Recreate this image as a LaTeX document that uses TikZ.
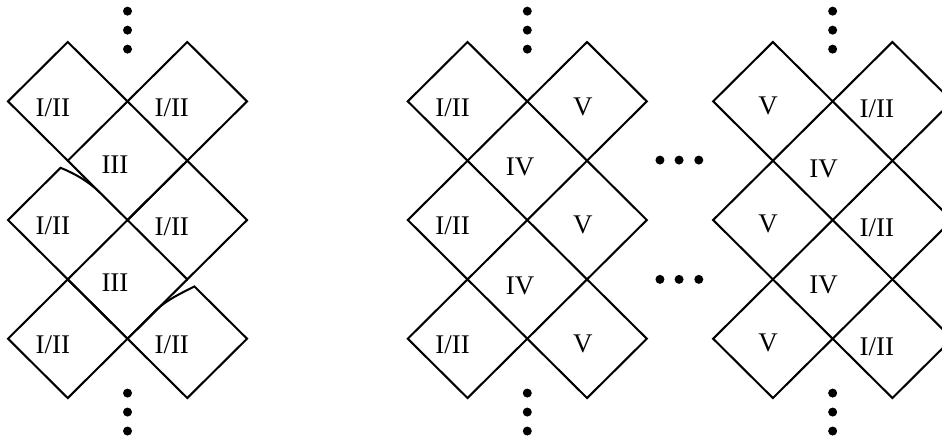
\documentclass[tikz,border=0pt]{standalone}
\usepackage{fontspec}
\setmainfont{Liberation Serif}

\tikzset{
  wall/.style={line width=1.75pt, line join=miter},
  reg/.style={inner sep=0pt, font=\fontsize{23}{27}\selectfont},
  ddot/.style={fill=black}
}

\begin{document}
\begin{tikzpicture}[x=1.7925cm, y=1.78cm]
    \clip (-0.134,-0.691) rectangle (15.63,6.708);

    % left block, with the two bent corners
    \draw[wall] (0,5) -- (1,6) -- (2,5) -- (1,4) -- cycle;
    \draw[wall] (2,5) -- (3,6) -- (4,5) -- (3,4) -- cycle;
    \draw[wall] (1,4) -- (2,3) -- (3,4);
    \draw[wall] (2,3) -- (1,2) -- (0,3) -- (0.88,3.88)
          .. controls (1.1,3.79) and (1.34,3.66) .. (1.54,3.46);
    \draw[wall] (2,3) -- (3,4) -- (4,3) -- (3,2) -- cycle;
    \draw[wall] (1,2) -- (2,1) -- (3,2);
    \draw[wall] (0,1) -- (1,2) -- (2,1) -- (1,0) -- cycle;
    \draw[wall] (2,1) -- (2.5,1.5)
          .. controls (2.65,1.65) and (2.92,1.78) .. (3.12,1.88)
          -- (4,1) -- (3,0) -- cycle;

    \foreach \y/\n in {5/a,3/b,1/c}
             {
               \node[reg] (L\n l) at (0.75,\y-0.1) {I/II};
               \node[reg] (L\n r) at (2.74,\y-0.11) {I/II};
             }
    \node[reg] (La m) at (1.79,3.93) {III};
    \node[reg] (Lb m) at (1.79,1.94) {III};

    % middle block
    \begin{scope}[shift={(6.69,0)}]
    \foreach \cx in {1,3}
             \foreach \cy in {1,3,5}
                      {
                        \draw[wall] (\cx-1,\cy) -- (\cx,\cy+1) -- (\cx+1,\cy) -- (\cx,\cy-1) -- cycle;
                      }
    \foreach \y/\n in {5/a,3/b,1/c}
             {
               \node[reg] (M\n l) at (0.75,\y-0.1) {I/II};
               \node[reg] (M\n r) at (2.93,\y-0.09) {V};
             }
    \node[reg] (Ma m) at (1.88,3.89) {IV};
    \node[reg] (Mb m) at (1.88,1.89) {IV};
    \end{scope}

    % right block
    \begin{scope}[shift={(11.8,0)}]
    \foreach \cx in {1,3}
             \foreach \cy in {1,3,5}
                      {
                        \draw[wall] (\cx-1,\cy) -- (\cx,\cy+1) -- (\cx+1,\cy) -- (\cx,\cy-1) -- cycle;
                      }
    \foreach \y/\n in {5/a,3/b,1/c}
             {
               \node[reg] (R\n l) at (0.92,\y-0.07) {V};
               \node[reg] (R\n r) at (2.74,\y-0.13) {I/II};
             }
    \node[reg] (Ra m) at (1.85,3.86) {IV};
    \node[reg] (Rb m) at (1.85,1.9) {IV};
    \end{scope}

    % dots
    \foreach \x in {2,8.69,13.8}
             {
               \foreach \y in {6.52,6.20,5.88,0.084,-0.236,-0.556}
                        \fill[ddot] (\x,\y) circle[radius=0.135cm];
             }
    \foreach \x in {10.91,11.23,11.56}
             {
               \fill[ddot] (\x,4.01) circle[radius=0.135cm];
               \fill[ddot] (\x,2.0) circle[radius=0.135cm];
             }
\end{tikzpicture}
\end{document}
